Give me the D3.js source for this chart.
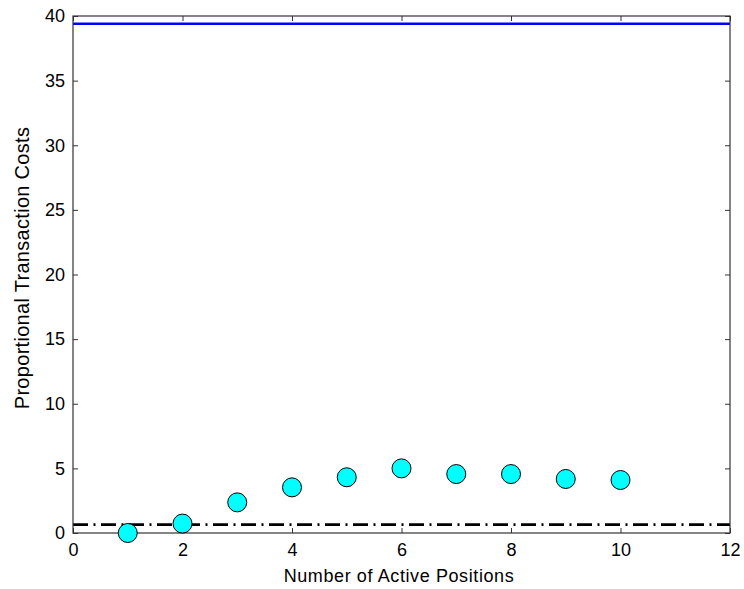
<!DOCTYPE html>
<html>
<head>
<meta charset="utf-8">
<script src="https://cdn.jsdelivr.net/npm/d3@7"></script>
<style>
  body { margin: 0; background: #fff; }
  svg text { font-family: "Liberation Sans", Arial, sans-serif; fill: #000; }
</style>
</head>
<body>
<svg id="chart" width="744" height="589"></svg>
<script>
// Number of active positions and the proportional transaction cost at each
const positions = [1, 2, 3, 4, 5, 6, 7, 8, 9, 10];
const costs = [0.0, 0.73, 2.37, 3.53, 4.31, 5.0, 4.56, 4.56, 4.18, 4.1];
// Reference levels: upper bound (solid blue) and baseline (dash-dot black)
const upperLevel = [39.4];
const baseLevel = [0.65];
const xTicks = [0, 2, 4, 6, 8, 10, 12];
const yTicks = [0, 5, 10, 15, 20, 25, 30, 35, 40];

const svg = d3.select("#chart");
const margin = { left: 73, top: 16, right: 14, bottom: 56 };
const W = 744, H = 589;
const x = d3.scaleLinear().domain([0, 12]).range([margin.left, W - margin.right]);
const y = d3.scaleLinear().domain([0, 40]).range([H - margin.bottom, margin.top]);

const axisColor = "#333";
const tickLen = 5;

// Plot box
svg.append("rect")
  .attr("x", x(0)).attr("y", y(40))
  .attr("width", x(12) - x(0)).attr("height", y(0) - y(40))
  .attr("fill", "#fff");

// Axes with inward ticks, mirrored on top and right
const styleAxis = g => {
  g.selectAll(".domain").remove();
  g.selectAll(".tick line").attr("stroke", axisColor);
};
svg.append("g").attr("transform", `translate(0,${y(0)})`)
  .call(d3.axisBottom(x).tickValues(xTicks).tickSizeInner(-tickLen).tickSizeOuter(0).tickPadding(10).tickFormat(d3.format("d")))
  .call(styleAxis);
svg.append("g").attr("transform", `translate(0,${y(40)})`)
  .call(d3.axisTop(x).tickValues(xTicks).tickSizeInner(-tickLen).tickSizeOuter(0).tickFormat(""))
  .call(styleAxis);
svg.append("g").attr("transform", `translate(${x(0)},0)`)
  .call(d3.axisLeft(y).tickValues(yTicks).tickSizeInner(-tickLen).tickSizeOuter(0).tickPadding(8).tickFormat(d3.format("d")))
  .call(styleAxis);
svg.append("g").attr("transform", `translate(${x(12)},0)`)
  .call(d3.axisRight(y).tickValues(yTicks).tickSizeInner(-tickLen).tickSizeOuter(0).tickFormat(""))
  .call(styleAxis);
svg.selectAll(".tick text")
  .style("font-family", "'Liberation Sans', Arial, sans-serif")
  .style("font-size", "18px").attr("fill", "#000");

// Reference lines
svg.selectAll(".upper").data(upperLevel).join("line")
  .attr("x1", x(0)).attr("x2", x(12))
  .attr("y1", d => y(d)).attr("y2", d => y(d))
  .attr("stroke", "#0000ff").attr("stroke-width", 2.5);

svg.selectAll(".base").data(baseLevel).join("line")
  .attr("x1", x(0)).attr("x2", x(12))
  .attr("y1", d => y(d)).attr("y2", d => y(d))
  .attr("stroke", "#000").attr("stroke-width", 2.7)
  .attr("stroke-dasharray", "15,5.5,2,5.5");

// Frame drawn over the lines
svg.append("rect")
  .attr("x", x(0)).attr("y", y(40))
  .attr("width", x(12) - x(0)).attr("height", y(0) - y(40))
  .attr("fill", "none").attr("stroke", axisColor).attr("stroke-width", 1.2);

// Data markers
svg.selectAll(".pt").data(positions.map((p, i) => [p, costs[i]])).join("circle")
  .attr("cx", d => x(d[0])).attr("cy", d => y(d[1]))
  .attr("r", 9.5)
  .attr("fill", "#00ffff").attr("stroke", "#000").attr("stroke-width", 1);

// Axis titles
svg.append("text")
  .attr("x", 399).attr("y", 582)
  .attr("text-anchor", "middle")
  .style("font-size", "18px")
  .style("letter-spacing", "0.6px")
  .text("Number of Active Positions");
svg.append("text")
  .attr("transform", `translate(29,268) rotate(-90)`)
  .attr("text-anchor", "middle")
  .style("font-size", "20px")
  .style("letter-spacing", "0.3px")
  .text("Proportional Transaction Costs");
</script>
</body>
</html>
